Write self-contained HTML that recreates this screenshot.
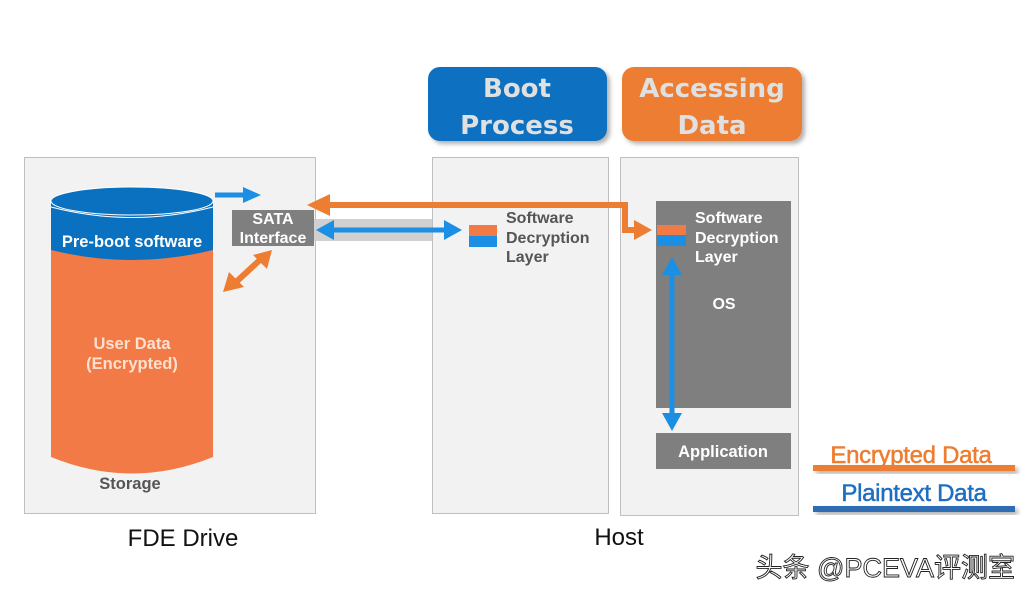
<!DOCTYPE html>
<html><head><meta charset="utf-8"><style>
html,body{margin:0;padding:0;background:#fff;}
svg{display:block;}
</style></head><body>
<svg width="1035" height="597" viewBox="0 0 1035 597" xmlns="http://www.w3.org/2000/svg" font-family="'Liberation Sans', Arial, sans-serif">
<defs>
<filter id="sh" x="-10%" y="-10%" width="130%" height="160%"><feDropShadow dx="3" dy="3" stdDeviation="2" flood-color="#000" flood-opacity="0.3"/></filter>
</defs>
<rect x="24.5" y="157.5" width="291" height="356" fill="#f2f2f2" stroke="#bfbfbf"/>
<rect x="432.5" y="157.5" width="176" height="356" fill="#f2f2f2" stroke="#bfbfbf"/>
<rect x="620.5" y="157.5" width="178" height="358" fill="#f2f2f2" stroke="#bfbfbf"/>
<rect x="428" y="67" width="179" height="74" rx="12" fill="#0a70c0" filter="url(#sh)"/>
<text x="517" y="97" font-size="26" font-weight="bold" fill="#e0e0e0" text-anchor="middle" font-family="'DejaVu Sans', sans-serif">Boot</text>
<text x="517" y="134" font-size="26" font-weight="bold" fill="#e0e0e0" text-anchor="middle" font-family="'DejaVu Sans', sans-serif">Process</text>
<rect x="622" y="67" width="180" height="74" rx="12" fill="#ed7d31" filter="url(#sh)"/>
<text x="712" y="97" font-size="26" font-weight="bold" fill="#e0e0e0" text-anchor="middle" font-family="'DejaVu Sans', sans-serif">Accessing</text>
<text x="712" y="134" font-size="26" font-weight="bold" fill="#e0e0e0" text-anchor="middle" font-family="'DejaVu Sans', sans-serif">Data</text>
<path d="M51 250 L51 457 Q132 490 213 457 L213 250 Z" fill="#f27a46"/>
<path d="M51 201 L51 250 Q132 270 213 250 L213 201 Z" fill="#0a70c0"/>
<ellipse cx="132" cy="201" rx="81" ry="14" fill="#0a70c0" stroke="#fff" stroke-width="1"/>
<path d="M51 207 Q132 228 213 207" fill="none" stroke="#fff" stroke-width="1"/>
<text x="132" y="247" font-size="16.5" font-weight="bold" fill="#fff" text-anchor="middle">Pre-boot software</text>
<text x="132" y="349" font-size="16.5" font-weight="bold" fill="#fde0d0" text-anchor="middle">User Data</text>
<text x="132" y="369" font-size="16.5" font-weight="bold" fill="#fde0d0" text-anchor="middle">(Encrypted)</text>
<text x="130" y="489" font-size="16.5" font-weight="bold" fill="#555" text-anchor="middle">Storage</text>
<rect x="232" y="210" width="82" height="36" fill="#7f7f7f"/>
<text x="273" y="224" font-size="16" font-weight="bold" fill="#fff" text-anchor="middle">SATA</text>
<text x="273" y="243" font-size="16" font-weight="bold" fill="#fff" text-anchor="middle">Interface</text>
<rect x="314" y="219" width="118" height="22" fill="#d0d0d0"/>
<line x1="215" y1="195" x2="246" y2="195" stroke="#1a8fe3" stroke-width="5"/>
<polygon points="243,187 261,195 243,203" fill="#1a8fe3"/>
<line x1="330" y1="230" x2="448" y2="230" stroke="#1a8fe3" stroke-width="5"/>
<polygon points="316,230 334,220 334,240" fill="#1a8fe3"/>
<polygon points="462,230 444,220 444,240" fill="#1a8fe3"/>
<line x1="235" y1="283" x2="262" y2="258" stroke="#ed7d31" stroke-width="6"/>
<polygon points="223,292 229,272 244,287" fill="#ed7d31"/>
<polygon points="272,250 253,255 267,269" fill="#ed7d31"/>
<polyline points="325,205 625,205 625,230 640,230" fill="none" stroke="#ed7d31" stroke-width="6"/>
<polygon points="307,205 330,194 330,216" fill="#ed7d31"/>
<polygon points="652,230 634,220 634,240" fill="#ed7d31"/>
<rect x="469" y="225" width="28" height="11" fill="#f27a46"/>
<rect x="469" y="236" width="28" height="11" fill="#1a8fe3"/>
<text x="506" y="223" font-size="16" font-weight="bold" fill="#555">Software</text>
<text x="506" y="243" font-size="16" font-weight="bold" fill="#555">Decryption</text>
<text x="506" y="262" font-size="16" font-weight="bold" fill="#555">Layer</text>
<rect x="656" y="201" width="135" height="207" fill="#7f7f7f"/>
<rect x="657" y="225" width="29" height="10" fill="#f27a46"/>
<rect x="657" y="235" width="29" height="11" fill="#1a8fe3"/>
<text x="695" y="223" font-size="16" font-weight="bold" fill="#fff">Software</text>
<text x="695" y="243" font-size="16" font-weight="bold" fill="#fff">Decryption</text>
<text x="695" y="262" font-size="16" font-weight="bold" fill="#fff">Layer</text>
<text x="724" y="309" font-size="16" font-weight="bold" fill="#fff" text-anchor="middle">OS</text>
<line x1="672" y1="270" x2="672" y2="418" stroke="#1a8fe3" stroke-width="5"/>
<polygon points="672,257 662,275 682,275" fill="#1a8fe3"/>
<polygon points="672,431 662,413 682,413" fill="#1a8fe3"/>
<rect x="656" y="433" width="135" height="36" fill="#7f7f7f"/>
<text x="723" y="457" font-size="16.5" font-weight="bold" fill="#fff" text-anchor="middle">Application</text>
<text x="911" y="463" font-size="24" fill="#ed7d31" text-anchor="middle" letter-spacing="-0.3" stroke="#ed7d31" stroke-width="0.5">Encrypted Data</text>
<rect x="813" y="465" width="202" height="6" fill="#ed7d31" filter="url(#sh)"/>
<text x="914" y="501" font-size="24" fill="#1f6fc0" text-anchor="middle" letter-spacing="-0.3" stroke="#1f6fc0" stroke-width="0.5">Plaintext Data</text>
<rect x="813" y="506" width="202" height="6" fill="#2e6db4" filter="url(#sh)"/>
<text x="183" y="546" font-size="24" fill="#111" text-anchor="middle">FDE Drive</text>
<text x="619" y="545" font-size="24" fill="#111" text-anchor="middle">Host</text>
<text x="1015" y="577" font-size="27" fill="#fff" stroke="#222" stroke-width="0.9" text-anchor="end" font-family="'Liberation Sans','Noto Sans CJK SC',sans-serif">头条 @PCEVA评测室</text>
</svg>
</body></html>
